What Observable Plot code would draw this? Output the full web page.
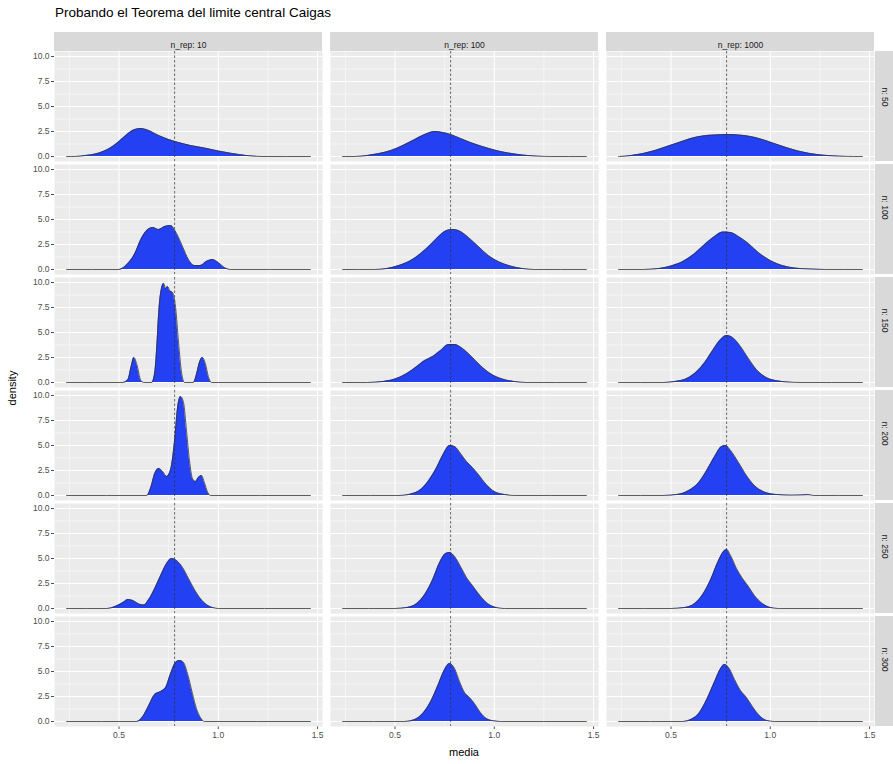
<!DOCTYPE html>
<html>
<head>
<meta charset="utf-8">
<script src="https://cdn.jsdelivr.net/npm/d3@7"></script>
<script src="https://cdn.jsdelivr.net/npm/@observablehq/plot@0.6"></script>
<style>
  body { margin: 0; background: #fff; font-family: "Liberation Sans", Arial, sans-serif; }
  #wrap { position: relative; width: 893px; height: 764px; overflow: hidden; background: #fff; }
  #title { position: absolute; left: 55px; top: 5px; font-size: 13.5px; color: #000; white-space: nowrap; }
  #chart { position: absolute; left: 0; top: 22px; }
  #xlab { position: absolute; top: 746px; left: 53px; width: 822px; text-align: center; font-size: 11px; color: #000; }
  #ylab { position: absolute; left: 12px; top: 388px; font-size: 11px; color: #000; transform: translate(-50%, -50%) rotate(-90deg); white-space: nowrap; }
</style>
</head>
<body>
<div id="wrap">
  <div id="title">Probando el Teorema del limite central Caigas</div>
  <div id="chart"></div>
  <div id="xlab">media</div>
  <div id="ylab">density</div>
</div>
<script>
// facet levels
const repLevels = [10, 100, 1000];
const nLevels = [50, 100, 150, 200, 250, 300];
const xTicks = [0.5, 1.0, 1.5];
const xMinor = [0.25, 0.75, 1.25];
const yTicks = [0, 2.5, 5, 7.5, 10];
const yMinor = [1.25, 3.75, 6.25, 8.75];
const xDomain = [0.175, 1.525];
const yDomain = [-0.5, 10.5];
const densRange = [0.236, 1.464];
const meanValue = 0.78;

// density curves: [media, density]
const n50_rep10 = [[0.28,0],[0.33,0.1],[0.38,0.25],[0.42,0.5],[0.46,0.9],[0.5,1.5],[0.54,2.2],[0.58,2.7],[0.61,2.8],[0.65,2.6],[0.7,2.1],[0.75,1.7],[0.8,1.4],[0.86,1.1],[0.93,0.85],[1.0,0.55],[1.07,0.3],[1.14,0.1],[1.22,0]];
const n50_rep100 = [[0.3,0],[0.36,0.1],[0.42,0.3],[0.48,0.6],[0.54,1.1],[0.6,1.7],[0.65,2.2],[0.7,2.5],[0.74,2.4],[0.78,2.2],[0.83,1.8],[0.88,1.4],[0.94,1.0],[1.0,0.65],[1.07,0.35],[1.14,0.15],[1.22,0.03],[1.28,0]];
const n50_rep1000 = [[0.24,0],[0.3,0.1],[0.36,0.3],[0.42,0.6],[0.48,1.0],[0.54,1.4],[0.6,1.8],[0.66,2.05],[0.72,2.15],[0.78,2.2],[0.84,2.15],[0.9,2.0],[0.96,1.7],[1.02,1.3],[1.08,0.9],[1.14,0.55],[1.2,0.3],[1.27,0.12],[1.35,0.03],[1.42,0]];

const n100_rep10 = [[0.5,0],[0.54,0.5],[0.58,1.6],[0.61,3.0],[0.64,3.9],[0.67,4.2],[0.7,4.0],[0.73,4.3],[0.76,4.4],[0.79,3.6],[0.82,2.3],[0.85,1.0],[0.88,0.4],[0.91,0.4],[0.94,0.8],[0.97,1.0],[1.0,0.7],[1.03,0.2],[1.06,0]];
const n100_rep100 = [[0.4,0],[0.46,0.1],[0.52,0.4],[0.58,0.9],[0.63,1.6],[0.68,2.5],[0.72,3.3],[0.76,3.9],[0.79,4.0],[0.83,3.8],[0.87,3.2],[0.92,2.3],[0.97,1.4],[1.02,0.8],[1.08,0.35],[1.14,0.1],[1.2,0]];
const n100_rep1000 = [[0.36,0],[0.44,0.1],[0.5,0.35],[0.56,0.8],[0.62,1.6],[0.67,2.5],[0.72,3.3],[0.76,3.75],[0.8,3.7],[0.84,3.3],[0.89,2.6],[0.94,1.7],[1.0,0.9],[1.06,0.4],[1.12,0.15],[1.2,0.04],[1.28,0]];

const n150_rep10 = [[0.52,0],[0.545,0.3],[0.56,1.5],[0.575,2.5],[0.59,1.8],[0.61,0.2],[0.625,0],[0.665,0],[0.68,1.0],[0.69,3.5],[0.7,7.0],[0.71,9.0],[0.725,9.9],[0.735,9.4],[0.745,9.6],[0.755,9.2],[0.77,9.0],[0.785,7.5],[0.8,4.0],[0.815,1.0],[0.83,0],[0.875,0],[0.89,0.8],[0.905,2.0],[0.92,2.5],[0.935,1.9],[0.95,0.6],[0.965,0]];
const n150_rep100 = [[0.36,0],[0.44,0.1],[0.5,0.35],[0.56,0.9],[0.61,1.6],[0.65,2.2],[0.69,2.6],[0.73,3.2],[0.77,3.8],[0.8,3.8],[0.84,3.4],[0.88,2.7],[0.93,1.7],[0.98,0.9],[1.04,0.35],[1.1,0.1],[1.16,0]];
const n150_rep1000 = [[0.46,0],[0.52,0.1],[0.58,0.4],[0.63,1.1],[0.67,2.0],[0.71,3.2],[0.75,4.3],[0.78,4.7],[0.81,4.5],[0.85,3.6],[0.89,2.4],[0.93,1.3],[0.98,0.5],[1.04,0.15],[1.1,0.03],[1.15,0]];

const n200_rep10 = [[0.64,0],[0.66,0.8],[0.68,2.2],[0.7,2.7],[0.72,2.4],[0.74,1.9],[0.76,2.6],[0.78,5.5],[0.795,8.8],[0.81,9.9],[0.825,9.3],[0.84,6.5],[0.855,3.5],[0.87,1.7],[0.885,1.4],[0.9,1.8],[0.915,2.0],[0.93,1.3],[0.945,0.4],[0.96,0]];
const n200_rep100 = [[0.52,0],[0.58,0.15],[0.63,0.6],[0.67,1.5],[0.71,2.8],[0.745,4.2],[0.775,5.0],[0.8,4.9],[0.83,4.2],[0.86,3.4],[0.89,2.8],[0.92,2.1],[0.96,1.1],[1.0,0.4],[1.05,0.1],[1.1,0]];
const n200_rep1000 = [[0.46,0],[0.53,0.1],[0.59,0.5],[0.64,1.3],[0.68,2.5],[0.72,3.9],[0.755,4.9],[0.775,5.0],[0.8,4.5],[0.84,3.3],[0.88,2.0],[0.92,1.0],[0.97,0.35],[1.03,0.1],[1.1,0.03],[1.16,0.05],[1.19,0.08],[1.22,0]];

const n250_rep10 = [[0.44,0],[0.48,0.2],[0.52,0.6],[0.545,0.9],[0.57,0.8],[0.6,0.45],[0.625,0.35],[0.65,0.9],[0.68,2.0],[0.71,3.3],[0.74,4.5],[0.765,5.0],[0.79,4.8],[0.82,4.1],[0.85,3.0],[0.88,1.9],[0.91,1.0],[0.94,0.4],[0.97,0.1],[1.0,0]];
const n250_rep100 = [[0.5,0],[0.56,0.1],[0.61,0.5],[0.65,1.4],[0.69,2.9],[0.725,4.6],[0.755,5.5],[0.775,5.6],[0.8,5.2],[0.83,4.2],[0.86,3.1],[0.89,2.3],[0.92,1.5],[0.96,0.6],[1.0,0.15],[1.05,0]];
const n250_rep1000 = [[0.5,0],[0.57,0.1],[0.62,0.5],[0.66,1.4],[0.7,2.9],[0.735,4.6],[0.765,5.7],[0.78,5.9],[0.8,5.3],[0.83,4.0],[0.86,3.0],[0.89,2.2],[0.92,1.3],[0.96,0.5],[1.0,0.1],[1.04,0]];

const n300_rep10 = [[0.59,0],[0.62,0.5],[0.65,1.6],[0.68,2.7],[0.71,3.0],[0.735,3.4],[0.76,4.8],[0.785,5.9],[0.805,6.1],[0.825,5.9],[0.845,4.8],[0.87,2.8],[0.89,1.3],[0.91,0.4],[0.93,0]];
const n300_rep100 = [[0.55,0],[0.6,0.2],[0.64,0.8],[0.68,2.0],[0.72,3.8],[0.75,5.2],[0.775,5.8],[0.8,5.3],[0.825,4.0],[0.85,2.9],[0.875,2.4],[0.9,1.8],[0.93,0.9],[0.96,0.3],[1.0,0.05],[1.03,0]];
const n300_rep1000 = [[0.56,0],[0.6,0.2],[0.64,0.8],[0.68,2.2],[0.72,4.0],[0.75,5.3],[0.77,5.7],[0.79,5.4],[0.82,4.2],[0.85,3.1],[0.88,2.4],[0.91,1.5],[0.94,0.7],[0.97,0.2],[1.0,0.03],[1.02,0]];

const panels = [
  {n: 50, rep: 10, pts: n50_rep10}, {n: 50, rep: 100, pts: n50_rep100}, {n: 50, rep: 1000, pts: n50_rep1000},
  {n: 100, rep: 10, pts: n100_rep10}, {n: 100, rep: 100, pts: n100_rep100}, {n: 100, rep: 1000, pts: n100_rep1000},
  {n: 150, rep: 10, pts: n150_rep10}, {n: 150, rep: 100, pts: n150_rep100}, {n: 150, rep: 1000, pts: n150_rep1000},
  {n: 200, rep: 10, pts: n200_rep10}, {n: 200, rep: 100, pts: n200_rep100}, {n: 200, rep: 1000, pts: n200_rep1000},
  {n: 250, rep: 10, pts: n250_rep10}, {n: 250, rep: 100, pts: n250_rep100}, {n: 250, rep: 1000, pts: n250_rep1000},
  {n: 300, rep: 10, pts: n300_rep10}, {n: 300, rep: 100, pts: n300_rep100}, {n: 300, rep: 1000, pts: n300_rep1000}
];

const dens = panels.flatMap(p =>
  [[densRange[0], 0], ...p.pts, [densRange[1], 0]].map(([x, y]) => ({n: p.n, rep: p.rep, x, y}))
);

const stripTop = repLevels.map(rep => ({rep, n: nLevels[0], label: `n_rep: ${rep}`}));
const stripRight = nLevels.map(n => ({n, rep: repLevels[repLevels.length - 1], label: `n: ${n}`}));

const fmt1 = d => d.toFixed(1);

const chart = Plot.plot({
  width: 893,
  height: 742,
  marginTop: 26,
  marginBottom: 35,
  marginLeft: 53,
  marginRight: 18,
  style: {fontFamily: '"Liberation Sans", Arial, sans-serif', fontSize: "8.5px", color: "#4D4D4D", background: "transparent"},
  fx: {domain: repLevels, paddingInner: 0.029, paddingOuter: 0, axis: null},
  fy: {domain: nLevels, paddingInner: 0.026, paddingOuter: 0, axis: null},
  x: {domain: xDomain, ticks: xTicks, tickFormat: fmt1, tickSize: 3, tickPadding: 2, label: null},
  y: {domain: yDomain, ticks: yTicks, tickFormat: fmt1, tickSize: 3, tickPadding: 2, label: null},
  marks: [
    Plot.frame({fill: "#EBEBEB", stroke: "none"}),
    Plot.ruleX(xMinor, {stroke: "#FFFFFF", strokeWidth: 0.5}),
    Plot.ruleY(yMinor, {stroke: "#FFFFFF", strokeWidth: 0.5}),
    Plot.ruleX(xTicks, {stroke: "#FFFFFF", strokeWidth: 1.1}),
    Plot.ruleY(yTicks, {stroke: "#FFFFFF", strokeWidth: 1.1}),
    Plot.areaY(dens, {x: "x", y: "y", fx: "rep", fy: "n", fill: "#2340F2", curve: "monotone-x"}),
    Plot.lineY(dens, {x: "x", y: "y", fx: "rep", fy: "n", stroke: "#333333", strokeWidth: 0.8, curve: "monotone-x"}),
    Plot.ruleX([meanValue], {stroke: "#333333", strokeWidth: 0.7, strokeDasharray: "2.5,2"}),
    // strips
    Plot.rect(stripTop, {fx: "rep", fy: "n", x1: () => xDomain[0], x2: () => xDomain[1], y1: () => yDomain[1], y2: () => yDomain[1], insetTop: -19, fill: "#D9D9D9"}),
    Plot.text(stripTop, {fx: "rep", fy: "n", frameAnchor: "top", dy: -9.5, text: "label", fill: "#1A1A1A", fontSize: 8.5}),
    Plot.rect(stripRight, {fx: "rep", fy: "n", x1: () => xDomain[1], x2: () => xDomain[1], y1: () => yDomain[0], y2: () => yDomain[1], insetLeft: 1, insetRight: -19, fill: "#D9D9D9"}),
    Plot.text(stripRight, {fx: "rep", fy: "n", frameAnchor: "right", dx: 10, rotate: 90, text: "label", fill: "#1A1A1A", fontSize: 8.5})
  ]
});
document.getElementById("chart").appendChild(chart);
</script>
</body>
</html>
